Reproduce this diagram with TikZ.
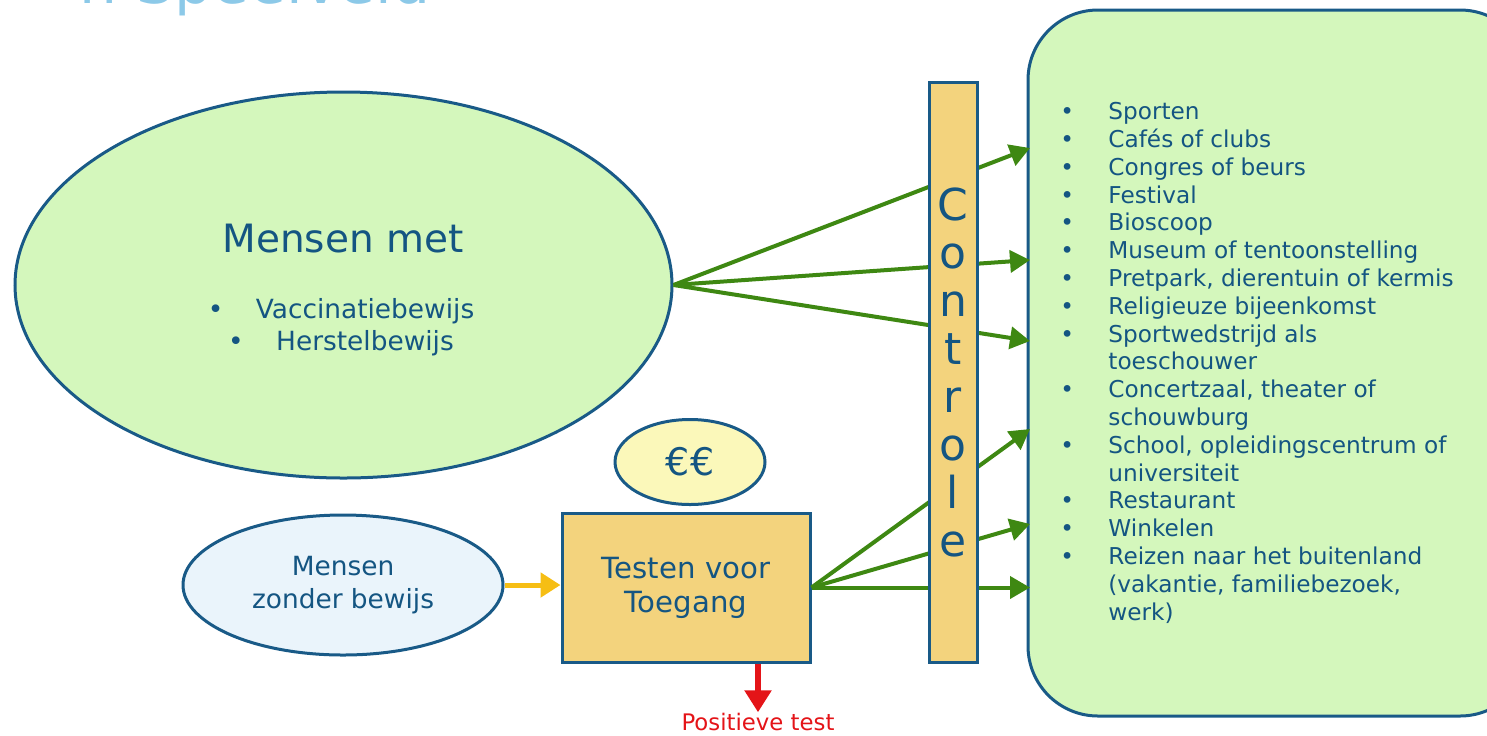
\documentclass[tikz,border=0pt]{standalone}
\usepackage{fontspec}
\setmainfont{DejaVu Sans}
\usetikzlibrary{shapes,arrows.meta,positioning}

\definecolor{randblauw}{RGB}{25,90,135}
\definecolor{tekstblauw}{RGB}{20,85,130}
\definecolor{lichtgroen}{RGB}{212,247,188}
\definecolor{zandgeel}{RGB}{243,211,125}
\definecolor{lichtgeel}{RGB}{251,248,186}
\definecolor{lichtblauw}{RGB}{234,244,251}
\definecolor{pijlgroen}{RGB}{62,136,18}
\definecolor{oranjegeel}{RGB}{246,190,20}
\definecolor{testrood}{RGB}{228,20,24}
\definecolor{titelblauw}{RGB}{140,201,232}

\newcommand{\opsom}{\makebox[24pt][l]{•}}

\begin{document}
\begin{tikzpicture}[x=0.5pt, y=-0.5pt,
  rand/.style={draw=randblauw, line width=1.5pt},
  ovaal/.style={rand, ellipse, inner sep=0pt},
  tekst/.style={text=tekstblauw, inner sep=0pt},
  groenpijl/.style={pijlgroen, line width=2pt, -{Triangle[length=10pt, width=11pt]}}]

\useasboundingbox (0,0) rectangle (1487,735);
\clip (0,0) rectangle (1487,735);

% titel, bovenaan afgesneden
\node[text=titelblauw, font=\fontsize{30}{34}\selectfont, anchor=base west, inner sep=0pt] (titel) at (79,3) {n Speelveld};

% groepen mensen
\node[ovaal, fill=lichtgroen, minimum width=328.5pt, minimum height=193pt] (met) at (343.5,285) {};
\node[tekst, font=\fontsize{19.5}{24}\selectfont, anchor=base] (metkop) at (343,252) {Mensen met};
\node[tekst, font=\fontsize{13.2}{16}\selectfont, align=center, anchor=north] (metlijst) at (341,298) {\opsom Vaccinatiebewijs\\ \opsom Herstelbewijs};

\node[ovaal, fill=lichtgeel, minimum width=75pt, minimum height=42.5pt, text=tekstblauw, font=\fontsize{19}{22}\selectfont] (euro) at (690,462) {€€};
\node[ovaal, fill=lichtblauw, minimum width=160pt, minimum height=70pt, text=tekstblauw, align=center, font=\fontsize{13.2}{16.5}\selectfont] (zonder) at (343,585) {Mensen\\zonder bewijs};

\node[rand, fill=zandgeel, minimum width=124pt, minimum height=74.5pt, align=center, text=tekstblauw, font=\fontsize{14.6}{17}\selectfont] (test) at (686,587.5) {Testen voor\\Toegang};

% plekken met coronatoegangsbewijs
\draw[rand, fill=lichtgroen, rounded corners=35pt] (1028,10) rectangle (1530,716);
\node[tekst, font=\fontsize{11.6}{13.9}\selectfont, align=left, anchor=north west] (plekken) at (1060,102) {%
\opsom Sporten\\
\opsom Cafés of clubs\\
\opsom Congres of beurs\\
\opsom Festival\\
\opsom Bioscoop\\
\opsom Museum of tentoonstelling\\
\opsom Pretpark, dierentuin of kermis\\
\opsom Religieuze bijeenkomst\\
\opsom Sportwedstrijd als\\
\hspace*{24pt}toeschouwer\\
\opsom Concertzaal, theater of\\
\hspace*{24pt}schouwburg\\
\opsom School, opleidingscentrum of\\
\hspace*{24pt}universiteit\\
\opsom Restaurant\\
\opsom Winkelen\\
\opsom Reizen naar het buitenland\\
\hspace*{24pt}(vakantie, familiebezoek,\\
\hspace*{24pt}werk)};

\coordinate (p1) at (1030,148);
\coordinate (p2) at (1030,260);
\coordinate (p3) at (1030,341);
\coordinate (p4) at (1030,429);
\coordinate (p5) at (1030,524);
\coordinate (p6) at (1030,587.5);

\foreach \doel in {p1,p2,p3}
  \draw[groenpijl] (met.east) -- (\doel);
\foreach \doel in {p4,p5,p6}
  \draw[groenpijl] (test.east) -- (\doel);

\draw[oranjegeel, line width=2.5pt, -{Triangle[length=10pt, width=12pt]}] (zonder.east) -- (zonder.east -| test.west);

\node[text=testrood, font=\fontsize{11.4}{14}\selectfont, anchor=base, inner sep=0pt] (positief) at (758,730) {Positieve test};
\draw[testrood, line width=3pt, -{Triangle[length=11pt, width=13pt]}] (test.south -| positief.north) -- (positief.north);

% controle staat over de pijlen heen
\node[rand, fill=zandgeel, minimum width=24pt, minimum height=290pt, align=center, text=tekstblauw, font=\fontsize{22}{24}\selectfont, inner sep=0pt] (controle) at (953,372) {C\\o\\n\\t\\r\\o\\l\\e};
\end{tikzpicture}
\end{document}
